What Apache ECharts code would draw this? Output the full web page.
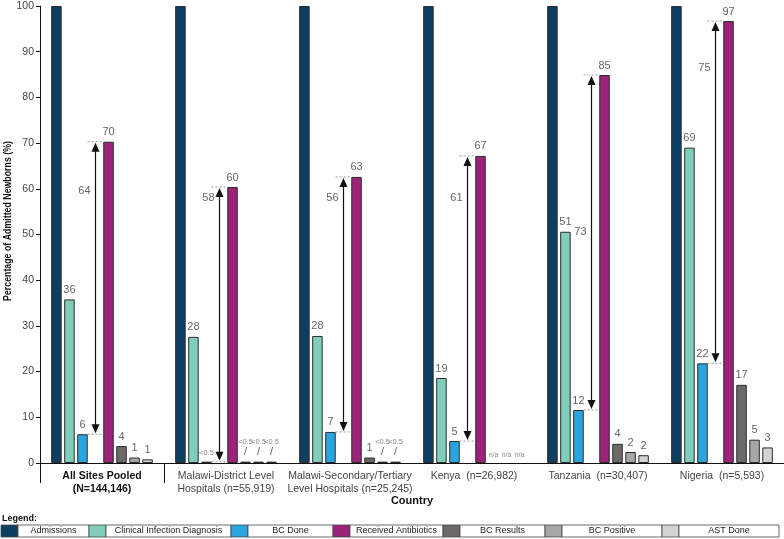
<!DOCTYPE html>
<html lang="en">
<head>
  <meta charset="UTF-8">
  <title>Newborn sepsis cascade</title>
  <style>html,body{margin:0;padding:0;background:#fff;}</style>
</head>
<body>
  <div id="main" style="width:784px;height:539px;"></div>
  <script src="https://cdn.jsdelivr.net/npm/echarts@6/dist/echarts.min.js"></script>
  <script>
  var countries = [
    'All Sites Pooled\n(N=144,146)',
    'Malawi-District Level\nHospitals (n=55,919)',
    'Malawi-Secondary/Tertiary\nLevel Hospitals (n=25,245)',
    'Kenya  (n=26,982)',
    'Tanzania  (n=30,407)',
    'Nigeria  (n=5,593)'
  ]
  var seriesNames = ['Admissions', 'Clinical Infection Diagnosis', 'BC Done', 'Received Antibiotics', 'BC Results', 'BC Positive', 'AST Done']
  var seriesColors = ['#0d3f62', '#80cdbb', '#2aa5e2', '#9c2379', '#6e6969', '#a9a6a6', '#d3d3d3']
  // values in percent, null = not available
  var admissions = [100, 100, 100, 100, 100, 100]
  var clinical = [35.8, 27.6, 27.8, 18.6, 50.6, 69.0]
  var bcDone = [6.3, 0.3, 6.8, 4.8, 11.6, 21.8]
  var antibiotics = [70.3, 60.4, 62.6, 67.2, 84.9, 96.7]
  var bcResults = [3.7, 0.3, 1.2, null, 4.2, 17.1]
  var bcPositive = [1.2, 0.3, 0.3, null, 2.4, 5.1]
  var astDone = [0.8, 0.3, 0.3, null, 1.7, 3.4]
  // gap between BC done and antibiotics, and the height (in %) where its number sits
  var gapLabels = ['64', '58', '56', '61', '73', '75']
  var gapLabelAt = [59.5, 58, 58, 58, 50.5, 86.5]
  var legendWidths = [71, 125, 85, 93, 85, 100, 100]

  var FONT = '"Liberation Sans", Arial, sans-serif'
  var myChart = echarts.init(document.getElementById('main'))

  function labelText(v, slash) {
    if (v == null) return '{na|n/a}'
    if (v < 0.5) return slash ? '{s|<0.5}\n{sl|/}' : '{s|<0.5}'
    return String(Math.round(v))
  }

  function makeBar(name, color, values, showLabel, slash) {
    return {
      name: name,
      type: 'bar',
      barWidth: 10.5,
      barGap: '24%',
      itemStyle: { color: color, borderColor: '#2b2b2b', borderWidth: 1 },
      label: {
        show: showLabel,
        position: 'top',
        distance: 4,
        color: '#666',
        fontSize: 11,
        fontFamily: FONT,
        formatter: function (p) { return labelText(values[p.dataIndex], slash) },
        rich: {
          s: { fontSize: 7.5, color: '#888', fontFamily: FONT, lineHeight: 10 },
          sl: { fontSize: 11, color: '#666', fontFamily: FONT, lineHeight: 11 },
          na: { fontSize: 7, color: '#888', fontFamily: FONT }
        }
      },
      data: values.map(function (v) {
        if (v == null) return { value: 0, itemStyle: { borderWidth: 0 } }
        return v
      })
    }
  }

  var series = [
    makeBar(seriesNames[0], seriesColors[0], admissions, false, false),
    makeBar(seriesNames[1], seriesColors[1], clinical, true, false),
    makeBar(seriesNames[2], seriesColors[2], bcDone, true, false),
    { name: 'gap', type: 'bar', barWidth: 10.5, barGap: '24%', data: countries.map(function () { return null }) },
    makeBar(seriesNames[3], seriesColors[3], antibiotics, true, false),
    makeBar(seriesNames[4], seriesColors[4], bcResults, true, true),
    makeBar(seriesNames[5], seriesColors[5], bcPositive, true, true),
    makeBar(seriesNames[6], seriesColors[6], astDone, true, true)
  ]

  // double arrows between BC done and received antibiotics
  series.push({
    type: 'custom',
    coordinateSystem: 'cartesian2d',
    clip: false,
    z: 5,
    encode: { x: 0, y: [1, 2] },
    data: countries.map(function (c, i) { return [i, bcDone[i], antibiotics[i], gapLabelAt[i]] }),
    renderItem: function (params, api) {
      var i = api.value(0)
      var lo = api.coord([i, api.value(1)])
      var hi = api.coord([i, api.value(2)])
      var mid = api.coord([i, api.value(3)])
      var x = lo[0] - 6.5
      var yTop = hi[1] + 1
      var yBot = lo[1] - 1
      return {
        type: 'group',
        children: [
          { type: 'line', shape: { x1: x - 8, y1: hi[1], x2: x + 8, y2: hi[1] }, style: { stroke: '#999', lineWidth: 1, lineDash: [2, 2] } },
          { type: 'line', shape: { x1: x - 8, y1: lo[1], x2: x + 8, y2: lo[1] }, style: { stroke: '#999', lineWidth: 1, lineDash: [2, 2] } },
          { type: 'line', shape: { x1: x, y1: yTop + 6, x2: x, y2: yBot - 6 }, style: { stroke: '#111', lineWidth: 1.2 } },
          { type: 'polygon', shape: { points: [[x, yTop], [x - 4, yTop + 9], [x + 4, yTop + 9]] }, style: { fill: '#111' } },
          { type: 'polygon', shape: { points: [[x, yBot], [x - 4, yBot - 9], [x + 4, yBot - 9]] }, style: { fill: '#111' } },
          { type: 'text', x: x - 5, y: mid[1], style: { text: gapLabels[i], fill: '#666', font: '11px ' + FONT, align: 'right', verticalAlign: 'middle' } }
        ]
      }
    }
  })

  // y title (narrow bold type) and legend table at the bottom
  var graphic = [
    { type: 'text', x: 8, y: 221, rotation: Math.PI / 2, scaleX: 0.8, style: { text: 'Percentage of Admitted Newborns (%)', font: 'bold 11px ' + FONT, fill: '#111', align: 'center', verticalAlign: 'middle' } },
    { type: 'text', left: 2, top: 514, style: { text: 'Legend:', font: 'bold 9px ' + FONT, fill: '#111' } }
  ]
  var lx = 1
  seriesNames.forEach(function (n, i) {
    graphic.push({ type: 'rect', shape: { x: lx, y: 525, width: 17, height: 12 }, style: { fill: seriesColors[i], stroke: '#444', lineWidth: 0.8 } })
    graphic.push({ type: 'rect', shape: { x: lx + 17, y: 525, width: legendWidths[i], height: 12 }, style: { fill: '#fff', stroke: '#444', lineWidth: 0.8 } })
    graphic.push({ type: 'text', x: lx + 17 + legendWidths[i] / 2, y: 531, style: { text: n, font: '9px ' + FONT, fill: '#222', align: 'center', verticalAlign: 'middle' } })
    lx += 17 + legendWidths[i]
  })

  var option = {
    animation: false,
    textStyle: { fontFamily: FONT },
    grid: { left: 40, right: 0, top: 6, bottom: 76, containLabel: false, outerBoundsMode: 'none' },
    xAxis: {
      type: 'category',
      data: countries,
      name: 'Country',
      nameLocation: 'middle',
      nameGap: 38,
      nameMoveOverlap: false,
      nameTextStyle: { fontWeight: 'bold', fontSize: 11, color: '#111', fontFamily: FONT, verticalAlign: 'middle' },
      axisLine: { lineStyle: { color: '#111', width: 1 } },
      axisTick: { show: true, length: 20, lineStyle: { color: '#111' }, interval: function (idx) { return idx <= 1 } },
      axisLabel: {
        interval: 0,
        margin: 7,
        color: '#444',
        fontSize: 10.5,
        lineHeight: 13,
        fontFamily: FONT,
        formatter: function (v, i) {
          if (i === 0) return v.split('\n').map(function (s) { return '{b|' + s + '}' }).join('\n')
          return v
        },
        rich: { b: { fontWeight: 'bold', color: '#111', fontSize: 10.5, lineHeight: 13, fontFamily: FONT } }
      }
    },
    yAxis: {
      type: 'value',
      min: 0,
      max: 100,
      interval: 10,
      axisLine: { show: true, lineStyle: { color: '#111' } },
      axisTick: { show: true, length: 4, lineStyle: { color: '#111' } },
      axisLabel: { color: '#444', fontSize: 10.5, margin: 6, fontFamily: FONT },
      splitLine: { show: false }
    },
    graphic: graphic,
    series: series
  }
  myChart.setOption(option)
  </script>
</body>
</html>
